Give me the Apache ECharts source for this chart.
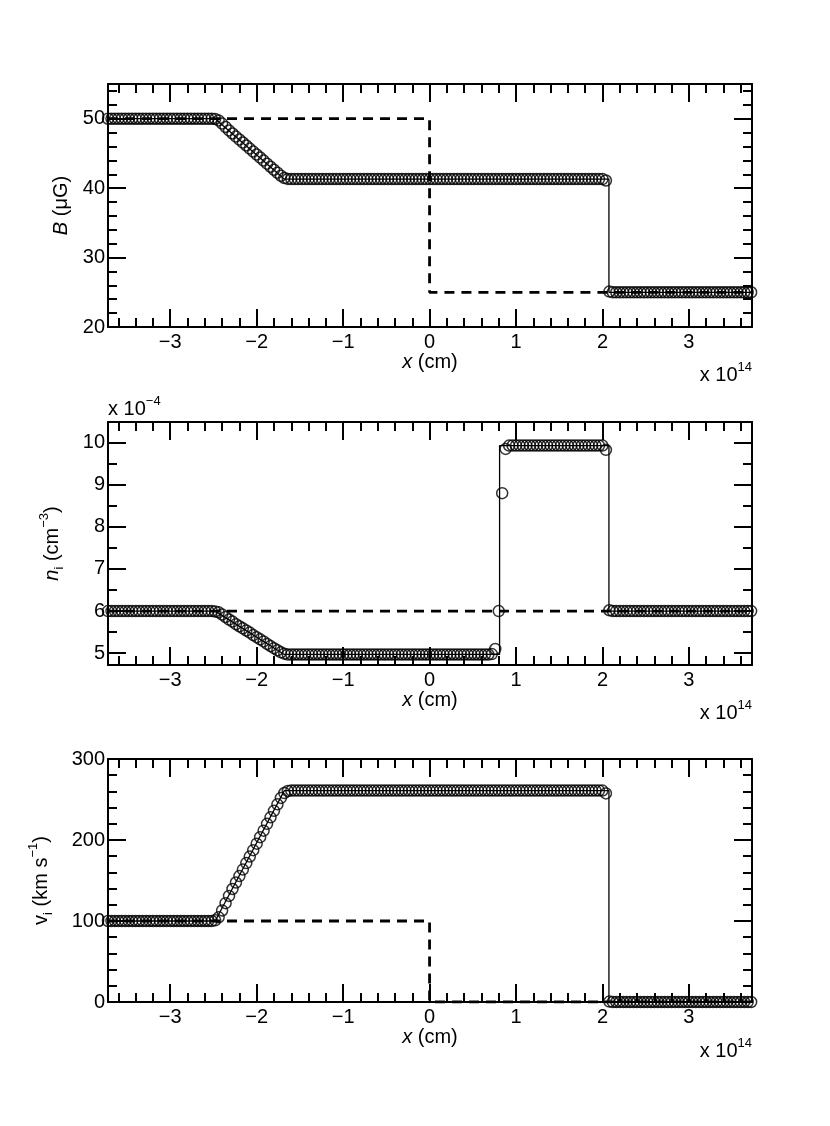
<!DOCTYPE html>
<html>
<head>
<meta charset="utf-8">
<script src="https://cdn.jsdelivr.net/npm/echarts@6/dist/echarts.min.js"></script>
<style>
  html, body { margin: 0; padding: 0; background: #fff; }
  #chart { width: 830px; height: 1126px; }
</style>
</head>
<body>
<div id="chart"></div>
<script>
// cell positions, in units of 1e14 cm
const xCells = [
  -3.72, -3.68, -3.64, -3.60, -3.56, -3.52, -3.48, -3.44, -3.40, -3.36,
  -3.32, -3.28, -3.24, -3.20, -3.16, -3.12, -3.08, -3.04, -3.00, -2.96,
  -2.92, -2.88, -2.84, -2.80, -2.76, -2.72, -2.68, -2.64, -2.60, -2.56,
  -2.52, -2.48, -2.44, -2.40, -2.36, -2.32, -2.28, -2.24, -2.20, -2.16,
  -2.12, -2.08, -2.04, -2.00, -1.96, -1.92, -1.88, -1.84, -1.80, -1.76,
  -1.72, -1.68, -1.64, -1.60, -1.56, -1.52, -1.48, -1.44, -1.40, -1.36,
  -1.32, -1.28, -1.24, -1.20, -1.16, -1.12, -1.08, -1.04, -1.00, -0.96,
  -0.92, -0.88, -0.84, -0.80, -0.76, -0.72, -0.68, -0.64, -0.60, -0.56,
  -0.52, -0.48, -0.44, -0.40, -0.36, -0.32, -0.28, -0.24, -0.20, -0.16,
  -0.12, -0.08, -0.04, 0.00, 0.04, 0.08, 0.12, 0.16, 0.20, 0.24,
  0.28, 0.32, 0.36, 0.40, 0.44, 0.48, 0.52, 0.56, 0.60, 0.64,
  0.68, 0.72, 0.76, 0.80, 0.84, 0.88, 0.92, 0.96, 1.00, 1.04,
  1.08, 1.12, 1.16, 1.20, 1.24, 1.28, 1.32, 1.36, 1.40, 1.44,
  1.48, 1.52, 1.56, 1.60, 1.64, 1.68, 1.72, 1.76, 1.80, 1.84,
  1.88, 1.92, 1.96, 2.00, 2.04, 2.08, 2.12, 2.16, 2.20, 2.24,
  2.28, 2.32, 2.36, 2.40, 2.44, 2.48, 2.52, 2.56, 2.60, 2.64,
  2.68, 2.72, 2.76, 2.80, 2.84, 2.88, 2.92, 2.96, 3.00, 3.04,
  3.08, 3.12, 3.16, 3.20, 3.24, 3.28, 3.32, 3.36, 3.40, 3.44,
  3.48, 3.52, 3.56, 3.60, 3.64, 3.68, 3.72
];

// simulated values; [value, count] is a run of equal cells
const bRuns = [[50, 31],
  49.96, 49.76, 49.3, 48.81, 48.32, 47.87, 47.43, 47.0, 46.57, 46.14, 45.7,
  45.27, 44.84, 44.41, 43.97, 43.52, 43.08, 42.65, 42.22, 41.79, 41.46, 41.33,
  [41.3, 91], 41.1, 25.1, [25, 41]];
const nRuns = [[6, 31],
  5.99, 5.97, 5.92, 5.86, 5.80, 5.75, 5.69, 5.64, 5.59, 5.54, 5.49,
  5.43, 5.38, 5.33, 5.28, 5.22, 5.17, 5.12, 5.07, 5.02, 4.99, 4.97,
  [4.97, 58], 4.98, 5.1, 6.0, 8.8, 9.85, [9.93, 28], 9.83, 6.02, [6, 41]];
const vRuns = [[100, 31],
  100.8, 104.5, 113, 122, 131, 139.5, 147.5, 155.5, 163.5, 171.5, 179.5,
  187.5, 195.5, 203.5, 211.5, 220, 228, 236, 244, 252, 258, 260.5,
  [261, 91], 257.5, 0.5, [0, 41]];

// exact solution (thin solid line)
const solX = [-3.72, -2.48, -1.68, 0.81, 0.81, 2.075, 2.075, 3.72];
const bSol = [50, 50, 41.3, 41.3, 41.3, 41.3, 25, 25];
const nSol = [6, 6, 4.97, 4.97, 9.93, 9.93, 6, 6];
const vSol = [100, 100, 261, 261, 261, 261, 0, 0];

// initial state (dashed)
const iniX = [-3.72, 0, 0, 3.72];
const bIni = [50, 50, 25, 25];
const nIni = [6, 6, 6, 6];
const vIni = [100, 100, 0, 0];

// tick labels
const xTicks = [-3, -2, -1, 0, 1, 2, 3];
const bTicks = [20, 30, 40, 50];
const nTicks = [5, 6, 7, 8, 9, 10];
const vTicks = [0, 100, 200, 300];

const FONT = 'Liberation Sans, Arial, sans-serif';
const BLACK = '#000';
const FS = 20;

function expand(runs) {
  const out = [];
  runs.forEach(r => {
    if (Array.isArray(r)) { for (let i = 0; i < r[1]; i++) out.push(r[0]); }
    else out.push(r);
  });
  return out;
}
function pairs(xs, ys) { return xs.map((x, i) => [x, ys[i]]); }

function minorList(min, max, step, majors) {
  const out = [];
  for (let i = Math.ceil(min / step - 1e-9); i * step <= max + 1e-9; i++) {
    const v = Math.round(i * step * 1000) / 1000;
    if (v <= min || v >= max) continue;
    if (majors.some(m => Math.abs(m - v) < 1e-6)) continue;
    out.push(v);
  }
  return out;
}

const minus = v => (v < 0 ? '\u2212' + (-v) : String(v));

const richName = {
  it: { fontStyle: 'italic', fontSize: FS, fontFamily: FONT, lineHeight: 28, color: BLACK },
  sub: { fontSize: 13, fontFamily: FONT, lineHeight: 13, verticalAlign: 'bottom', color: BLACK },
  sup: { fontSize: 13, fontFamily: FONT, lineHeight: 13, verticalAlign: 'top', color: BLACK }
};

function makeAxes(dim, gi, min, max, majors, minorStep, name, nameGap) {
  const isX = dim === 'x';
  const minors = minorList(min, max, minorStep, majors);
  const sides = isX ? ['bottom', 'top'] : ['left', 'right'];
  const list = [];
  sides.forEach((pos, si) => {
    const major = {
      gridIndex: gi, type: 'value', min: min, max: max, position: pos,
      splitLine: { show: false },
      axisLine: { show: true, onZero: false, lineStyle: { color: BLACK, width: 2 } },
      axisTick: { show: true, inside: true, length: 18, customValues: majors,
                  lineStyle: { color: BLACK, width: 2 } },
      axisLabel: { show: false }
    };
    if (si === 0) {
      major.axisLabel = {
        show: true, customValues: majors, formatter: minus,
        margin: isX ? 5 : 3, color: BLACK, fontSize: FS, fontFamily: FONT
      };
      major.name = name;
      major.nameLocation = 'middle';
      major.nameGap = nameGap;
      major.nameMoveOverlap = false;
      major.nameRotate = isX ? 0 : 90;
      major.nameTextStyle = {
        color: BLACK, fontSize: FS, fontFamily: FONT, lineHeight: 28, rich: richName
      };
    }
    list.push(major);
    list.push({
      gridIndex: gi, type: 'value', min: min, max: max, position: pos,
      splitLine: { show: false },
      axisLine: { show: false, onZero: false },
      axisTick: { show: true, inside: true, length: 9, customValues: minors,
                  lineStyle: { color: BLACK, width: 2 } },
      axisLabel: { show: false }
    });
  });
  return list;
}

const X_MIN = -3.72, X_MAX = 3.73;
const panels = [
  { top: 84, yMin: 20, yMax: 55, ticks: bTicks, minor: 2,
    yName: '{it|B} (\u03bcG)', yGap: 33,
    cells: expand(bRuns), sol: bSol, ini: bIni },
  { top: 422, yMin: 4.72, yMax: 10.49, ticks: nTicks, minor: 0.5,
    yName: '{it|n}{sub|i} (cm{sup|\u22123})', yGap: 42,
    cells: expand(nRuns), sol: nSol, ini: nIni },
  { top: 759, yMin: 0, yMax: 300, ticks: vTicks, minor: 20,
    yName: 'v{sub|i} (km s{sup|\u22121})', yGap: 53,
    cells: expand(vRuns), sol: vSol, ini: vIni }
];

const grid = [], xAxis = [], yAxis = [], series = [];
panels.forEach((p, gi) => {
  grid.push({ left: 108, top: p.top, width: 644, height: 243, outerBoundsMode: 'none' });
  xAxis.push(...makeAxes('x', gi, X_MIN, X_MAX, xTicks, 0.2, '{it|x} (cm)', 21));
  yAxis.push(...makeAxes('y', gi, p.yMin, p.yMax, p.ticks, p.minor, p.yName, p.yGap));
  const xi = gi * 4, yi = gi * 4;
  // initial state sits under the frame so its x-axis part stays hidden
  series.push({
    type: 'line', xAxisIndex: xi, yAxisIndex: yi, showSymbol: false, z: -1,
    data: pairs(iniX, p.ini),
    lineStyle: { color: BLACK, width: 2.8, type: [10, 7] }
  });
  series.push({
    type: 'line', xAxisIndex: xi, yAxisIndex: yi, showSymbol: false, z: 3,
    data: pairs(solX, p.sol),
    lineStyle: { color: BLACK, width: 1.3 }
  });
  series.push({
    type: 'scatter', xAxisIndex: xi, yAxisIndex: yi, clip: false, z: 4,
    symbol: 'circle', symbolSize: 11,
    itemStyle: { color: 'rgba(0,0,0,0)', borderColor: BLACK, borderWidth: 1.5 },
    data: pairs(xCells, p.cells)
  });
});

const expRich = {
  a: { fontSize: FS, fontFamily: FONT, lineHeight: 28, fill: BLACK },
  s: { fontSize: 13, fontFamily: FONT, lineHeight: 13, verticalAlign: 'top', fill: BLACK }
};
function expText(x, y, txt, align) {
  return { type: 'text', x: x, y: y, silent: true,
    style: { text: txt, rich: expRich, align: align, verticalAlign: 'top', fill: BLACK } };
}

const chart = echarts.init(document.getElementById('chart'), null, { renderer: 'canvas' });
chart.setOption({
  animation: false,
  backgroundColor: '#fff',
  grid: grid,
  xAxis: xAxis,
  yAxis: yAxis,
  series: series,
  graphic: [
    expText(752, 361, '{a|x 10}{s|14}', 'right'),
    expText(752, 699, '{a|x 10}{s|14}', 'right'),
    expText(752, 1037, '{a|x 10}{s|14}', 'right'),
    expText(108, 395, '{a|x 10}{s|\u22124}', 'left')
  ]
});
</script>
</body>
</html>
